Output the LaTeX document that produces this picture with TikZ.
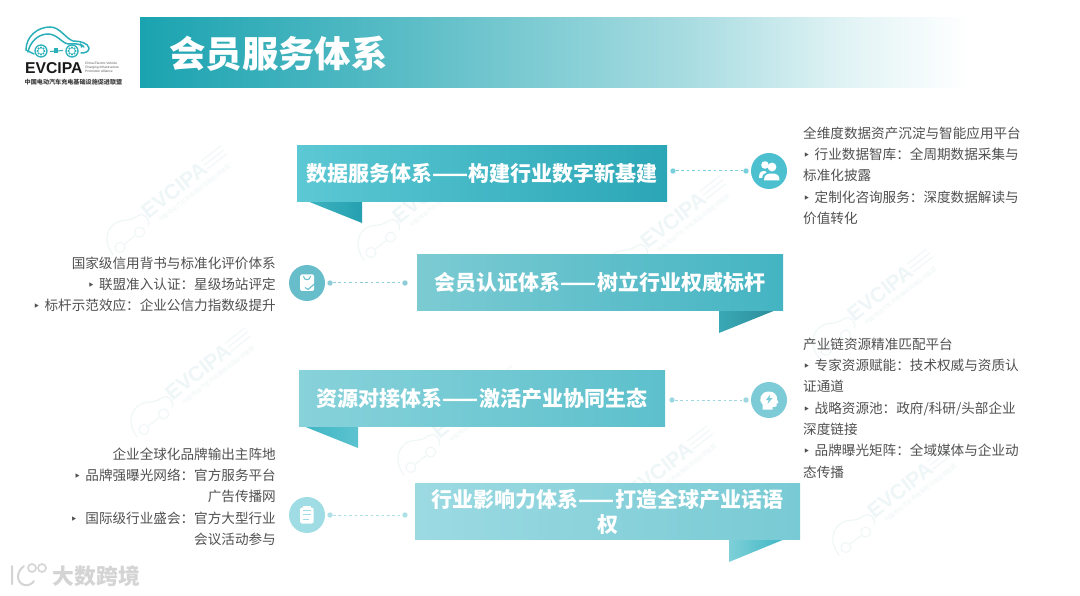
\documentclass[tikz,border=0pt]{standalone}
\usepackage{fontspec}
\setmainfont{Noto Sans CJK SC}
\newfontfamily\dvfont{DejaVu Sans}
\newfontfamily\lgfont{Liberation Sans}
\usetikzlibrary{calc}
\definecolor{tealA}{HTML}{1AA3B0}
\definecolor{logoC}{HTML}{2BB0BA}
\definecolor{sideT}{HTML}{505050}
\definecolor{wmC}{HTML}{EFF6F7}
\definecolor{markC}{HTML}{D4D4D4}
\definecolor{foldAl}{HTML}{3FB3C0}\definecolor{foldAr}{HTML}{25A0B0}
\definecolor{foldBl}{HTML}{3AA9B5}\definecolor{foldBr}{HTML}{2B8D99}
\definecolor{foldCl}{HTML}{3FB5C4}\definecolor{foldCr}{HTML}{5CC3CF}
\definecolor{foldDl}{HTML}{7FD0D8}\definecolor{foldDr}{HTML}{3DB6C4}
\definecolor{bandAl}{HTML}{5CC8D4}\definecolor{bandAr}{HTML}{2BA6B6}
\definecolor{bandBl}{HTML}{7CCBD3}\definecolor{bandBr}{HTML}{44B4C2}
\definecolor{bandCl}{HTML}{88D2DA}\definecolor{bandCr}{HTML}{5CC0CC}
\definecolor{bandDl}{HTML}{9CDAE2}\definecolor{bandDr}{HTML}{78CAD4}
\definecolor{circA}{HTML}{4DC0D0}
\definecolor{circB}{HTML}{67BDC9}
\definecolor{circC}{HTML}{7CCBD6}
\definecolor{circD}{HTML}{A0DCE3}
\pgfdeclarehorizontalshading{titleshade}{100bp}{color(0bp)=(tealA);color(25bp)=(tealA);color(41bp)=(tealA!72!white);color(58bp)=(tealA!38!white);color(68bp)=(tealA!12!white);color(75bp)=(white);color(100bp)=(white)}
\newcommand{\bul}{\makebox[11.5pt][l]{\dvfont\fontsize{12}{9}\selectfont ‣}}
\newcommand{\bulw}{\makebox[15pt][l]{\dvfont\fontsize{12}{9}\selectfont ‣}}
\tikzset{
  x=1pt,y=-1pt,
  bandbox/.style={rectangle,inner sep=0pt,minimum height=55.5pt,text=white,font=\fontsize{21}{24.8}\selectfont\bfseries,align=center},
  sidebox/.style={inner sep=0pt,text=sideT,font=\fontsize{13.6}{21.35}\selectfont},
  rightlist/.style={sidebox,anchor=north west,align=left},
  leftlist/.style={sidebox,anchor=north east,align=right},
  iconcirc/.style={circle,inner sep=0pt,minimum size=36pt},
  dotend/.style={circle,inner sep=0pt,minimum size=5.4pt},
  dotline/.style={line width=1pt,dash pattern=on 2.7pt off 2.7pt},
  icw/.style={fill=white,draw=none},
  carline/.style={line width=1.5pt,fill=none,line cap=round},
}
% faint watermark: logo rotated on the page
\newcommand{\wmark}[3]{%
\begin{scope}[shift={(#2,#3)},rotate=38,transform shape]
  \node[inner sep=0pt,text=wmC,font=\lgfont\fontsize{21}{21}\selectfont\bfseries] (#1t) at (0,0) {EVCIPA};
  \node[inner sep=0pt,text=wmC,font=\fontsize{5.6}{6}\selectfont] (#1c) at (14,15) {中国电动汽车充电基础设施促进联盟};
  \foreach \yy in {-6,-1,4}{\draw[wmC,line width=0.9pt] (39,\yy) -- (64,\yy);}
  \draw[wmC,line width=1.1pt] (-88,14) .. controls (-88,-8) and (-70,-14) .. (-60,-8)
     .. controls (-54,-4) and (-50,-2) .. (-44,-2) .. controls (-38,-2) and (-36,8) .. (-42,12);
  \draw[wmC,line width=1pt] (-78,12) circle (5pt) (-53,12) circle (5pt);
  \draw[wmC,line width=1pt] (-72,12) -- (-59,12);
\end{scope}}
\begin{document}
\begin{tikzpicture}
\useasboundingbox (0,0) rectangle (1080,596);
\fill[white] (0,0) rectangle (1080,596);
% watermarks
\wmark{wa}{174}{190}
\wmark{wb}{425}{195}
\wmark{wc}{673}{220}
\wmark{wd}{880}{293}
\wmark{we}{198}{372}
\wmark{wf}{465}{410}
\wmark{wg}{660}{470}
\wmark{wh}{900}{490}
% logo
\draw[logoC,carline] (26,50) .. controls (26,36) and (38,27) .. (50,27) .. controls (60,27) and (65,38) .. (73,41)
   .. controls (80,41) and (88,43) .. (89,48) .. controls (89,52) and (85,53) .. (81,53);
\draw[logoC,carline] (28,52) .. controls (30,42) and (38,34) .. (48,34) .. controls (57,34) and (62,43) .. (68,44) .. controls (74,44) and (80,43) .. (84,47);
\draw[logoC,carline] (26,50) -- (34,54);
\draw[logoC,line width=2.4pt,line cap=round,dash pattern=on 0pt off 2.6pt] (41,51) circle (3.4pt) (72,51) circle (3.4pt);
\draw[logoC,line width=1.3pt] (41,51) circle (6pt) (72,51) circle (6pt);
\draw[logoC,line width=1pt] (50,51.5) -- (63,50.5);
\fill[logoC] (54,48.5) rectangle (58,53.5);
\fill[logoC] (80,43) -- (84,46) -- (81,48) -- cycle;
\node[inner sep=0pt,anchor=west,text=black!90,font=\lgfont\fontsize{15.7}{15.7}\selectfont\bfseries] (logot) at (25,68) {EVCIPA};
\node[inner sep=0pt,anchor=west,align=left,text=black!65,font=\lgfont\fontsize{3.3}{3.9}\selectfont] (logoe) at (85,67.5) {China Electric Vehicle\\Charging Infrastructure\\Promotion Alliance};
\node[inner sep=0pt,anchor=west,text=black!75,font=\fontsize{6.1}{7}\selectfont\bfseries] (logoz) at (24.5,82) {中国电动汽车充电基础设施促进联盟};
% title bar
\path[shading=titleshade] (140,18) rectangle (970,88);
\node[inner sep=0pt,anchor=west,text=white,font=\fontsize{36.4}{37}\selectfont\bfseries] (title) at (169,54) {会员服务体系};
% folds
\path[left color=foldAl,right color=foldAr] (307,201) -- (362,201) -- (362,223) -- cycle;
\path[left color=foldBl,right color=foldBr] (719,310) -- (776,310) -- (719,333) -- cycle;
\path[left color=foldCl,right color=foldCr] (303,426) -- (358,426) -- (358,448) -- cycle;
\path[left color=foldDl,right color=foldDr] (729,539) -- (785,539) -- (729,562) -- cycle;
% bands
\node[bandbox,minimum width=370pt,left color=bandAl,right color=bandAr] (b1) at (482,173.5) {数据服务体系——构建行业数字新基建};
\node[bandbox,minimum width=366pt,left color=bandBl,right color=bandBr] (b2) at (600,282.5) {会员认证体系——树立行业权威标杆};
\node[bandbox,minimum width=366pt,left color=bandCl,right color=bandCr] (b3) at (482,398.5) {资源对接体系——激活产业协同生态};
\node[bandbox,minimum width=385pt,left color=bandDl,right color=bandDr] (b4) at (607.5,511.7) {\raisebox{-2pt}{行业影响力体系——打造全球产业话语}\\\raisebox{-2pt}{权}};
% connector 1
\node[iconcirc,fill=circA] (c1) at (769,171) {};
\node[dotend,fill=circA!75!white] (d1a) at (673,171) {};
\node[dotend,fill=circA!75!white] (d1b) at (746,171) {};
\draw[dotline,circA!75!white] (d1a) -- (d1b);
% connector 2
\node[iconcirc,fill=circB] (c2) at (307,283) {};
\node[dotend,fill=circB!75!white] (d2a) at (330,283) {};
\node[dotend,fill=circB!75!white] (d2b) at (405,283) {};
\draw[dotline,circB!75!white] (d2a) -- (d2b);
% connector 3
\node[iconcirc,fill=circC] (c3) at (769,400) {};
\node[dotend,fill=circC!75!white] (d3a) at (672,400) {};
\node[dotend,fill=circC!75!white] (d3b) at (746,400) {};
\draw[dotline,circC!75!white] (d3a) -- (d3b);
% connector 4
\node[iconcirc,fill=circD] (c4) at (307,515) {};
\node[dotend,fill=circD!85!white] (d4a) at (330,515) {};
\node[dotend,fill=circD!85!white] (d4b) at (405,515) {};
\draw[dotline,circD!85!white] (d4a) -- (d4b);
% icon 1: people
\fill[icw] (772,167) circle (4.4pt);
\fill[icw] (764,180.5) .. controls (764,174.5) and (767,173.5) .. (772,173.5) .. controls (777,173.5) and (779.5,175) .. (779.5,180.5) -- cycle;
\fill[icw] (765,165) circle (3.8pt);
\fill[icw] (759,178) .. controls (759,172) and (761,171) .. (765,171) -- (766.5,172.5) .. controls (763.5,173.5) and (762,175) .. (762,178) -- cycle;
% icon 2: bag with check
\fill[icw,rounded corners=1.5pt] (300,274.5) rectangle (314,291);
\draw[circB,line width=1pt] (303.5,276) .. controls (303.5,281) and (310.5,281) .. (310.5,276);
\draw[circB,line width=1.1pt] (305,287.5) -- (308,289.5) -- (315,283.5);
% icon 3: head with bolt
\fill[icw] (762.5,409.5) -- (762.5,404.5) .. controls (758,401) and (760,391.5) .. (769,391.5) .. controls (775,391.5) and (777.5,396) .. (777,399.5) -- (778.5,403) -- (776.5,403.5) -- (776.5,406) .. controls (776,407) and (774,407) .. (772.5,407) -- (772.5,409.5) -- cycle;
\fill[circC] (770,394.5) -- (766,400) -- (768.7,400) -- (767.5,404) -- (772.5,398) -- (769.5,398) -- cycle;
% icon 4: clipboard
\fill[icw,rounded corners=1.5pt] (300,507.5) rectangle (313.5,523.5);
\fill[icw] (303,505.5) rectangle (310.5,509);
\draw[circD,line width=1pt] (303,510) -- (310.5,510) (303,514.5) -- (310.5,514.5) (303,519) -- (308.5,519);
% side texts
\node[rightlist] (t1) at (803,126.5) {全维度数据资产沉淀与智能应用平台\\\bul 行业数据智库：全周期数据采集与\\标准化披露\\\bul 定制化咨询服务：深度数据解读与\\价值转化};
\node[leftlist] (t2) at (276,256.5) {国家级信用背书与标准化评价体系\\\bul 联盟准入认证：星级场站评定\\\bul 标杆示范效应：企业公信力指数级提升};
\node[rightlist] (t3) at (803,337.5) {产业链资源精准匹配平台\\\bul 专家资源赋能：技术权威与资质认\\证通道\\\bul 战略资源池：政府/科研/头部企业\\深度链接\\\bul 品牌曝光矩阵：全域媒体与企业动\\态传播};
\node[leftlist] (t4) at (276,447.5) {企业全球化品牌输出主阵地\\\bul 品牌强曝光网络：官方服务平台\\广告传播网\\\bulw 国际级行业盛会：官方大型行业\\会议活动参与};
% bottom-left mark
\draw[markC,line width=2pt,line cap=round] (12,566) -- (12,584) (24,566) .. controls (16,572) and (16,582) .. (24,585) .. controls (28,586) and (32,584) .. (34,581);
\draw[markC,line width=1.6pt] (32,568) circle (4pt) (42,568) circle (4pt);
\node[inner sep=0pt,anchor=west,text=markC,font=\fontsize{21.8}{22}\selectfont\bfseries] (mark) at (52.5,576) {大数跨境};
\end{tikzpicture}
\end{document}
